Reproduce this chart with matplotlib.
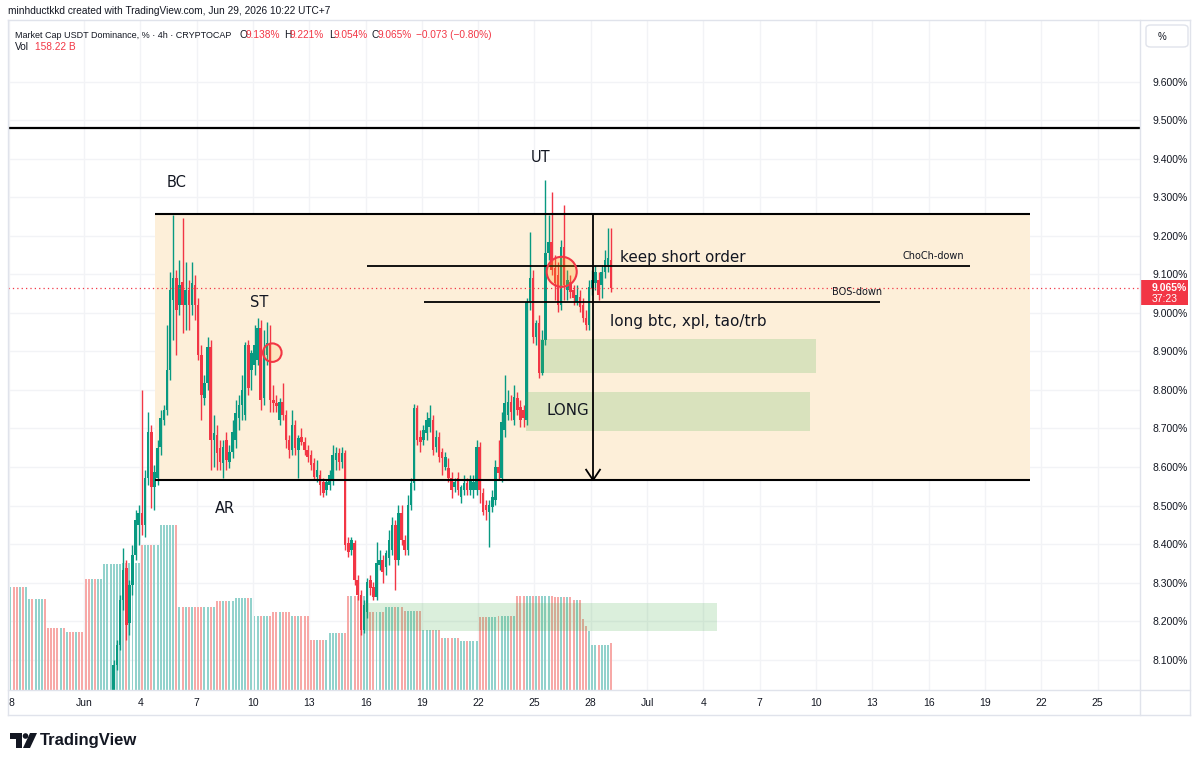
import matplotlib
matplotlib.use("Agg")
import matplotlib.pyplot as plt
from matplotlib.patches import Rectangle, Ellipse, FancyBboxPatch, Polygon
from matplotlib.lines import Line2D

W, H = 1200, 765

# ---------------- data ----------------
# 4h candles, time measured in days from Jun 1 (00:00)
candle_start = 1.583
candle_step = 1 / 6

opens = [8.021, 8.086, 8.138, 8.255, 8.338, 8.195, 8.294, 8.371, 8.449, 8.481,
         8.449, 8.572, 8.691, 8.548, 8.572, 8.652, 8.722, 8.748, 8.852, 9.034,
         9.091, 9.021, 9.081, 9.021, 9.060, 9.021, 9.073, 9.021, 8.891, 8.779,
         8.818, 8.912, 8.670, 8.683, 8.649, 8.610, 8.670, 8.613, 8.639, 8.670,
         8.727, 8.761, 8.735, 8.917, 8.852, 8.865, 8.878, 8.961, 8.779, 8.891,
         8.922, 8.774, 8.766, 8.722, 8.769, 8.735, 8.670, 8.644, 8.709, 8.644,
         8.678, 8.665, 8.644, 8.631, 8.610, 8.574, 8.579, 8.561, 8.540, 8.553,
         8.566, 8.618, 8.636, 8.613, 8.636, 8.403, 8.384, 8.403, 8.306, 8.268,
         8.177, 8.224, 8.306, 8.288, 8.262, 8.346, 8.358, 8.340, 8.364, 8.384,
         8.449, 8.358, 8.481, 8.410, 8.384, 8.501, 8.558, 8.753, 8.678, 8.670,
         8.688, 8.704, 8.722, 8.652, 8.678, 8.639, 8.600, 8.597, 8.572, 8.548,
         8.572, 8.522, 8.540, 8.558, 8.540, 8.540, 8.540, 8.652, 8.532, 8.501,
         8.483, 8.496, 8.514, 8.600, 8.572, 8.696, 8.735, 8.769, 8.722, 8.779,
         8.756, 8.748, 8.722, 9.029, 9.091, 8.938, 8.974, 8.844, 8.930, 9.156,
         9.184, 9.117, 9.099, 9.021, 9.171, 9.060, 9.081, 9.060, 9.029, 9.042,
         9.021, 8.987, 8.969, 9.065, 9.078, 9.086, 9.073, 9.107, 9.125, 9.138]
highs = [8.099, 8.151, 8.268, 8.389, 8.358, 8.306, 8.397, 8.488, 8.501, 8.800,
         8.592, 8.743, 8.709, 8.605, 8.670, 8.748, 8.761, 8.969, 9.107, 9.255,
         9.112, 9.138, 9.247, 9.132, 9.086, 9.132, 9.099, 9.039, 8.917, 8.839,
         8.938, 8.930, 8.735, 8.709, 8.670, 8.670, 8.691, 8.657, 8.722, 8.774,
         8.787, 8.839, 8.925, 8.930, 8.904, 8.969, 8.987, 8.982, 8.956, 8.977,
         8.969, 8.813, 8.787, 8.779, 8.818, 8.748, 8.683, 8.748, 8.722, 8.683,
         8.701, 8.678, 8.657, 8.644, 8.623, 8.618, 8.592, 8.572, 8.566, 8.592,
         8.657, 8.652, 8.649, 8.652, 8.644, 8.418, 8.418, 8.410, 8.320, 8.281,
         8.255, 8.312, 8.320, 8.301, 8.405, 8.384, 8.371, 8.384, 8.436, 8.470,
         8.462, 8.501, 8.501, 8.423, 8.527, 8.572, 8.764, 8.761, 8.696, 8.709,
         8.743, 8.761, 8.735, 8.696, 8.691, 8.649, 8.639, 8.623, 8.587, 8.572,
         8.587, 8.553, 8.579, 8.572, 8.579, 8.579, 8.670, 8.665, 8.545, 8.514,
         8.514, 8.540, 8.618, 8.670, 8.743, 8.839, 8.800, 8.787, 8.813, 8.795,
         8.774, 8.761, 9.039, 9.210, 9.112, 8.982, 8.995, 8.956, 9.345, 9.255,
         9.314, 9.151, 9.132, 9.190, 9.280, 9.112, 9.099, 9.073, 9.073, 9.060,
         9.039, 9.008, 9.086, 9.112, 9.125, 9.107, 9.125, 9.164, 9.221, 9.221]
lows = [7.995, 8.073, 8.125, 8.229, 8.151, 8.164, 8.268, 8.358, 8.397, 8.423,
        8.418, 8.553, 8.494, 8.488, 8.553, 8.631, 8.709, 8.735, 8.826, 8.930,
        8.891, 8.995, 8.948, 8.956, 8.956, 8.995, 8.982, 8.878, 8.722, 8.761,
        8.800, 8.592, 8.600, 8.592, 8.592, 8.572, 8.592, 8.597, 8.623, 8.649,
        8.696, 8.722, 8.722, 8.787, 8.800, 8.839, 8.865, 8.748, 8.761, 8.865,
        8.743, 8.743, 8.743, 8.709, 8.722, 8.649, 8.623, 8.631, 8.631, 8.572,
        8.657, 8.631, 8.613, 8.592, 8.566, 8.561, 8.527, 8.522, 8.527, 8.540,
        8.553, 8.592, 8.592, 8.597, 8.384, 8.366, 8.371, 8.294, 8.255, 8.164,
        8.169, 8.208, 8.268, 8.255, 8.255, 8.333, 8.299, 8.320, 8.346, 8.371,
        8.281, 8.346, 8.397, 8.371, 8.371, 8.488, 8.540, 8.657, 8.639, 8.657,
        8.670, 8.691, 8.631, 8.639, 8.613, 8.579, 8.592, 8.561, 8.519, 8.535,
        8.527, 8.506, 8.527, 8.527, 8.527, 8.519, 8.527, 8.506, 8.475, 8.462,
        8.392, 8.483, 8.501, 8.566, 8.561, 8.678, 8.722, 8.722, 8.709, 8.735,
        8.704, 8.704, 8.709, 9.008, 8.922, 8.917, 8.831, 8.839, 8.917, 9.138,
        9.099, 9.034, 9.003, 9.008, 9.034, 9.034, 9.039, 9.021, 9.021, 9.003,
        8.977, 8.956, 8.956, 9.047, 9.060, 9.034, 9.039, 9.091, 9.107, 9.054]
closes = [8.086, 8.138, 8.255, 8.333, 8.190, 8.294, 8.371, 8.462, 8.481, 8.449,
          8.572, 8.691, 8.548, 8.587, 8.649, 8.727, 8.748, 8.852, 9.060, 9.091,
          9.008, 9.073, 9.021, 9.060, 9.021, 9.078, 9.021, 8.891, 8.787, 8.818,
          8.912, 8.670, 8.688, 8.636, 8.613, 8.652, 8.618, 8.639, 8.691, 8.740,
          8.761, 8.800, 8.917, 8.805, 8.896, 8.917, 8.961, 8.774, 8.904, 8.922,
          8.774, 8.766, 8.758, 8.769, 8.735, 8.670, 8.644, 8.709, 8.649, 8.675,
          8.665, 8.644, 8.626, 8.605, 8.574, 8.592, 8.553, 8.532, 8.561, 8.579,
          8.631, 8.636, 8.613, 8.636, 8.397, 8.379, 8.410, 8.306, 8.268, 8.177,
          8.242, 8.301, 8.286, 8.262, 8.351, 8.358, 8.327, 8.377, 8.410, 8.449,
          8.358, 8.481, 8.410, 8.384, 8.501, 8.558, 8.753, 8.670, 8.665, 8.696,
          8.722, 8.727, 8.644, 8.678, 8.626, 8.623, 8.626, 8.572, 8.540, 8.561,
          8.540, 8.548, 8.558, 8.540, 8.566, 8.561, 8.652, 8.540, 8.483, 8.488,
          8.501, 8.522, 8.600, 8.584, 8.717, 8.766, 8.769, 8.743, 8.782, 8.748,
          8.722, 8.727, 9.029, 9.091, 8.938, 8.974, 8.844, 8.930, 9.156, 9.184,
          9.112, 9.078, 9.021, 9.171, 9.073, 9.086, 9.055, 9.039, 9.047, 9.016,
          8.987, 8.969, 9.068, 9.086, 9.107, 9.047, 9.107, 9.138, 9.143, 9.065]

# volume (billions) for every 4h bar, the first 34 bars precede the visible candles
vol_start = candle_start - 34 * candle_step
volumes = [296,
    347, 347, 347, 347, 347, 347, 306, 306, 306, 306, 306, 306,
    209, 209, 209, 209, 209, 209, 195, 195, 195, 195, 195, 195,
    374, 374, 374, 374, 374, 374, 424, 424, 424, 424, 424, 424,
    427, 427, 427, 427, 427, 427, 488, 488, 488, 488, 488, 488,
    555, 555, 555, 555, 555, 555, 279, 279, 279, 279, 279, 279,
    279, 279, 279, 279, 279, 279, 300, 300, 300, 300, 300, 300,
    310, 310, 310, 310, 310, 310, 249, 249, 249, 249, 249, 249,
    263, 263, 263, 263, 263, 263, 249, 249, 249, 249, 249, 249,
    168, 168, 168, 168, 168, 168, 192, 192, 192, 192, 192, 192,
    316, 316, 316, 316, 316, 316, 263, 263, 263, 263, 263, 263,
    279, 279, 279, 279, 279, 279, 266, 266, 266, 266, 266, 266,
    202, 202, 202, 202, 202, 202, 175, 175, 175, 175, 175, 175,
    165, 165, 165, 165, 165, 165, 246, 246, 246, 246, 246, 246,
    249, 249, 249, 249, 249, 249, 316, 316, 316, 316, 316, 316,
    316, 316, 316, 316, 316, 316, 313, 313, 313, 313, 313, 313,
    303, 303, 303, 239, 215, 199, 151, 151, 151, 151, 151, 151, 158]
# direction of the bars before the first visible candle (1 = up, 0 = down)
pre_vol_up = [1, 1, 0, 0, 1, 0, 1, 1, 0, 1, 1, 1, 0, 0, 0, 0, 0, 1,
              0, 1, 0, 0, 1, 0, 0, 0, 0, 1, 0, 1, 1, 1, 1, 1]

price_ticks = [8.1, 8.2, 8.3, 8.4, 8.5, 8.6, 8.7, 8.8, 8.9, 9.0,
               9.1, 9.2, 9.3, 9.4, 9.5, 9.6]
date_ticks = [-4, 0, 3, 6, 9, 12, 15, 18, 21, 24, 27, 30, 33, 36, 39, 42, 45, 48, 51, 54]
date_labels = ["8", "Jun", "4", "7", "10", "13", "16", "19", "22", "25", "28",
               "Jul", "4", "7", "10", "13", "16", "19", "22", "25"]

last_price = 9.065
upper_line = 9.48
range_top, range_bottom = 9.257, 8.566
range_days = (3.78, 50.4)
choch_level, choch_days = 9.122, (15.08, 47.2)
bos_level, bos_days = 9.029, (18.11, 42.41)
long_zone1 = (24.29, 39.0, 8.844, 8.932)
long_zone2 = (23.55, 38.68, 8.694, 8.795)
vol_zone = (14.97, 33.72, 8.174, 8.247)
arrow_day = 27.12

UP, DOWN = "#089981", "#f23645"
VUP, VDOWN = "#92d2cc", "#f7a9a7"
TXT = "#131722"

XMIN, XMAX = -4.05, 56.26
YMIN, YMAX = 8.0208, 9.761

plt.rcParams["font.family"] = ["DejaVu Sans"]

fig = plt.figure(figsize=(W / 100, H / 100), dpi=100)
fig.patch.set_facecolor("white")
rect = [8 / W, 1 - 690 / H, 1132 / W, 670 / H]
axg = fig.add_axes(rect)
axv = fig.add_axes(rect)
ax = fig.add_axes(rect)
for a in (axv, ax):
    a.patch.set_visible(False)
for a in (axg, axv, ax):
    for s in a.spines.values():
        s.set_visible(False)
    a.tick_params(length=0)
    a.set_xlim(XMIN, XMAX)

# grid
axg.set_ylim(YMIN, YMAX)
axg.set_yticks(price_ticks)
axg.set_xticks(date_ticks)
axg.grid(True, color="#f2f3f6", lw=1)
axg.tick_params(labelbottom=False, labelleft=False)

# volume
axv.set_ylim(0, 2255)
axv.set_xticks([]); axv.set_yticks([])
tv = [vol_start + j * candle_step for j in range(len(volumes))]
vcols = []
for j in range(len(volumes)):
    if j < len(pre_vol_up):
        isup = pre_vol_up[j] == 1
    else:
        k = j - len(pre_vol_up)
        isup = closes[k] >= opens[k]
    vcols.append(VUP if isup else VDOWN)
axv.bar(tv, volumes, width=0.105, color=vcols, linewidth=0)

# price axes
ax.set_ylim(YMIN, YMAX)
ax.yaxis.tick_right()
ax.set_yticks(price_ticks)
ax.set_yticklabels([f"{p:.3f}%" for p in price_ticks], fontsize=7.5,
                   color=TXT, family="Liberation Sans")
ax.tick_params(axis="y", pad=9)
ax.set_xticks(date_ticks)
ax.set_xticklabels(date_labels, fontsize=7.5, color=TXT, family="Liberation Sans")
ax.tick_params(axis="x", pad=6)
ax.get_xticklabels()[0].set_horizontalalignment("left")

# range box
ax.add_patch(Rectangle((range_days[0], range_bottom), range_days[1] - range_days[0],
                       range_top - range_bottom, facecolor="#fdefd9", edgecolor="none", zorder=1))
ax.hlines([range_top, range_bottom], range_days[0], range_days[1], colors="black", lw=1.5, zorder=6)

# candles
t = [candle_start + i * candle_step for i in range(len(closes))]
ccols = [UP if c >= o else DOWN for o, c in zip(opens, closes)]
ax.vlines(t, lows, highs, colors=ccols, lw=1.0, zorder=3)
bodies = [max(abs(c - o), 0.003) for o, c in zip(opens, closes)]
bottoms = [min(o, c) for o, c in zip(opens, closes)]
ax.bar(t, bodies, bottom=bottoms, width=0.135, color=ccols, linewidth=0, zorder=4)

# green zones
for (x0, x1, y0, y1) in (long_zone1, long_zone2, vol_zone):
    ax.add_patch(Rectangle((x0, y0), x1 - x0, y1 - y0, facecolor="#4caf50",
                           alpha=0.2, edgecolor="none", zorder=5))

# lines
ax.axhline(upper_line, color="black", lw=1.6, zorder=6)
ax.axhline(last_price, color=DOWN, lw=0.9, ls=(0, (1, 2.5)), zorder=6)
ax.hlines(choch_level, *choch_days, colors="black", lw=1.3, zorder=6)
ax.hlines(bos_level, *bos_days, colors="black", lw=1.3, zorder=6)
ax.vlines(arrow_day, range_bottom, range_top, colors="black", lw=1.3, zorder=6)
ax.plot([arrow_day - 0.37, arrow_day, arrow_day + 0.37],
        [range_bottom + 0.027, range_bottom, range_bottom + 0.027], color="black", lw=1.3, zorder=6)

# circles
ax.add_patch(Ellipse((10.03, 8.897), 0.99, 0.048, facecolor=(1, 0.6, 0, 0.12),
                     edgecolor=DOWN, lw=1.5, zorder=7))
ax.add_patch(Ellipse((25.45, 9.107), 1.6, 0.078, facecolor=(1, 0.6, 0, 0.25),
                     edgecolor=DOWN, lw=1.5, zorder=7))

# annotations
ax.text(4.95, 9.338, "BC", fontsize=10.5, color=TXT, ha="center", va="center", zorder=8)
ax.text(9.32, 9.026, "ST", fontsize=10.5, color=TXT, ha="center", va="center", zorder=8)
ax.text(7.51, 8.491, "AR", fontsize=10.5, color=TXT, ha="center", va="center", zorder=8)
ax.text(24.35, 9.403, "UT", fontsize=10.5, color=TXT, ha="center", va="center", zorder=8)
ax.text(28.56, 9.143, "keep short order", fontsize=10.9, color=TXT, ha="left", va="center", zorder=8)
ax.text(28.02, 8.977, "long btc, xpl, tao/trb", fontsize=11, color=TXT, ha="left", va="center", zorder=8)
ax.text(25.79, 8.748, "LONG", fontsize=10.8, color=TXT, ha="center", va="center", zorder=8)
ax.text(45.23, 9.148, "ChoCh-down", fontsize=7, color=TXT, ha="center", va="center", zorder=8)
ax.text(41.18, 9.055, "BOS-down", fontsize=7, color=TXT, ha="center", va="center", zorder=8)


# ------------- figure-level decorations (pixel helpers) -------------
def fx(x):
    return x / W


def fy(y):
    return 1 - y / H


def ftext(x, y, s, **kw):
    kw.setdefault("va", "center")
    kw.setdefault("color", TXT)
    kw.setdefault("family", "Liberation Sans")
    fig.text(fx(x), fy(y), s, **kw)


frame = "#e0e3eb"
for (x0, y0, x1, y1) in [(8, 20, 1190, 20), (8, 690, 1190, 690), (8, 715, 1190, 715),
                         (8, 20, 8, 715), (1140, 20, 1140, 715), (1190, 20, 1190, 715)]:
    fig.add_artist(Line2D([fx(x0), fx(x1)], [fy(y0), fy(y1)], color=frame, lw=1))

ftext(8, 11, "minhductkkd created with TradingView.com, Jun 29, 2026 10:22 UTC+7", fontsize=7.3)
ftext(15, 35, "Market Cap USDT Dominance, % · 4h · CRYPTOCAP", fontsize=6.45)
pieces = [(239, "O", TXT), (246, "9.138%", DOWN), (284, "H", TXT), (290, "9.221%", DOWN),
          (329, "L", TXT), (334, "9.054%", DOWN), (371, "C", TXT), (377, "9.065%", DOWN),
          (416, "\u22120.073 (\u22120.80%)", DOWN)]
for x, s, c in pieces:
    ftext(x, 35, s, fontsize=7.3, color=c)
ftext(15, 47, "Vol", fontsize=7.3)
ftext(35, 47, "158.22 B", fontsize=7.3, color=DOWN)

# % box
fig.add_artist(FancyBboxPatch((fx(1146), fy(47)), fx(42), 22 / H,
                              boxstyle="round,pad=0,rounding_size=0.004",
                              facecolor="white", edgecolor=frame, lw=1))
ftext(1158, 37, "%", fontsize=7)

# last price label
fig.add_artist(Rectangle((fx(1141), fy(305)), fx(47), 25 / H, facecolor=DOWN, edgecolor="none"))
ftext(1152, 288, "9.065%", fontsize=7.5, color="white", weight="bold")
ftext(1152, 299, "37:23", fontsize=7.5, color="white")

# TradingView logo
fig.add_artist(Polygon([(fx(10), fy(733)), (fx(22), fy(733)), (fx(22), fy(748)),
                        (fx(16), fy(748)), (fx(16), fy(738.5)), (fx(10), fy(738.5))],
                       closed=True, facecolor=TXT, edgecolor="none"))
fig.add_artist(Ellipse((fx(25.5), fy(736)), 5.6 / W, 5.6 / H, facecolor=TXT, edgecolor="none"))
fig.add_artist(Polygon([(fx(30), fy(733)), (fx(37), fy(733)), (fx(30), fy(748)), (fx(23), fy(748))],
                       closed=True, facecolor=TXT, edgecolor="none"))
ftext(40, 740, "TradingView", fontsize=12, weight="bold")

fig.savefig("out.png", dpi=100)
